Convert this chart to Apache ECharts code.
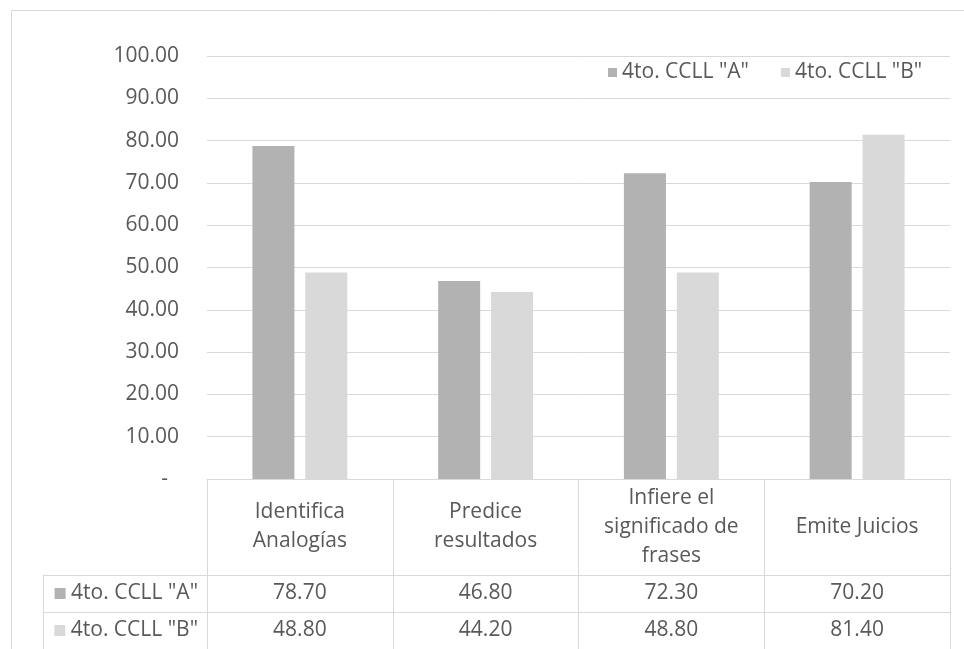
<!DOCTYPE html>
<html>
<head>
<meta charset="utf-8">
<script src="https://cdn.jsdelivr.net/npm/echarts@6/dist/echarts.min.js"></script>
<style>
  html, body { margin: 0; padding: 0; background: #ffffff; }
  #chart { width: 964px; height: 649px; }
</style>
</head>
<body>
<div id="chart"></div>
<script>
// Skill categories (header row of the data table)
const categories = ['Identifica\nAnalogías', 'Predice\nresultados', 'Infiere el\nsignificado de\nfrases', 'Emite Juicios'];
// Group names
const seriesNames = ['4to. CCLL "A"', '4to. CCLL "B"'];
// Percent scores per group
const valuesA = [78.70, 46.80, 72.30, 70.20];
const valuesB = [48.80, 44.20, 48.80, 81.40];
// Value axis range
const yMin = 0, yMax = 100, yStep = 10;

const colors = ['#b2b2b2', '#d9d9d9'];
const textColor = '#595959';
const lineColor = '#d9d9d9';
const fontFamily = '"Open Sans", "Noto Sans", sans-serif';
const fs = 21;

const chart = echarts.init(document.getElementById('chart'), null, { renderer: 'canvas' });

function tableRow(values, rowIdx) {
  return values.map((v, i) => [i, rowIdx, v]);
}

const option = {
  animation: false,
  backgroundColor: '#ffffff',
  textStyle: { fontFamily: fontFamily, color: textColor },
  graphic: [{
    type: 'rect',
    shape: { x: 11.5, y: 10.5, width: 1000, height: 700 },
    style: { fill: 'none', stroke: lineColor, lineWidth: 1 },
    silent: true
  }],
  legend: {
    data: seriesNames,
    left: 603,
    top: 57,
    icon: 'rect',
    itemWidth: 9,
    itemHeight: 9,
    itemGap: 32,
    textStyle: { fontSize: fs, color: textColor, fontFamily: fontFamily }
  },
  grid: [
    // chart plot
    { left: 207, right: 14, top: 56, height: 423 },
    // table frame (vertical rules)
    { left: 207, right: 14, top: 479, height: 172 },
    // table data rows
    { left: 207, right: 14, top: 575, height: 76 }
  ],
  xAxis: [
    {
      gridIndex: 0,
      type: 'category',
      data: categories,
      axisLine: { show: true, lineStyle: { color: lineColor, width: 1 } },
      axisTick: { show: false },
      axisLabel: {
        margin: 48,
        verticalAlign: 'middle',
        fontSize: fs,
        lineHeight: 29,
        color: textColor,
        fontFamily: fontFamily,
        interval: 0
      }
    },
    {
      gridIndex: 1,
      type: 'category',
      data: categories,
      axisLine: { show: false },
      axisTick: { show: false },
      axisLabel: { show: false },
      splitLine: { show: true, interval: 0, lineStyle: { color: lineColor, width: 1 } }
    },
    {
      gridIndex: 2,
      type: 'category',
      data: categories,
      axisLine: { show: false },
      axisTick: { show: false },
      axisLabel: { show: false },
      splitLine: { show: false }
    }
  ],
  yAxis: [
    {
      gridIndex: 0,
      type: 'value',
      min: yMin,
      max: yMax,
      interval: yStep,
      axisLine: { show: false },
      axisTick: { show: false },
      splitLine: { lineStyle: { color: lineColor, width: 1 } },
      axisLabel: {
        margin: 28,
        fontSize: fs,
        color: textColor,
        fontFamily: fontFamily,
        formatter: v => v === 0 ? '{d|-}' : v.toFixed(2),
        rich: { d: { fontSize: fs, color: textColor, padding: [0, 11, 0, 0] } }
      }
    },
    {
      gridIndex: 1,
      type: 'value',
      min: 0,
      max: 1,
      show: false
    },
    {
      gridIndex: 2,
      type: 'category',
      data: seriesNames,
      inverse: true,
      axisLine: { show: false },
      axisTick: { show: true, length: 164, inside: false, interval: 0, lineStyle: { color: lineColor, width: 1 } },
      splitLine: { show: true, interval: 0, lineStyle: { color: lineColor, width: 1 } },
      axisLabel: {
        margin: 9,
        interval: 0,
        fontSize: fs,
        color: textColor,
        fontFamily: fontFamily,
        formatter: (val, idx) => '{k' + idx + '|} ' + val,
        rich: {
          k0: { backgroundColor: colors[0], width: 11, height: 11 },
          k1: { backgroundColor: colors[1], width: 11, height: 11 }
        }
      }
    },
    {
      // left border of the row-label column
      gridIndex: 2,
      type: 'category',
      data: seriesNames,
      position: 'left',
      offset: 164,
      axisLine: { show: true, lineStyle: { color: lineColor, width: 1 } },
      axisTick: { show: false },
      axisLabel: { show: false },
      splitLine: { show: false }
    }
  ],
  series: [
    {
      name: seriesNames[0],
      type: 'bar',
      xAxisIndex: 0,
      yAxisIndex: 0,
      data: valuesA,
      barWidth: 42,
      barGap: '26%',
      itemStyle: { color: colors[0] }
    },
    {
      name: seriesNames[1],
      type: 'bar',
      xAxisIndex: 0,
      yAxisIndex: 0,
      data: valuesB,
      barWidth: 42,
      barGap: '26%',
      itemStyle: { color: colors[1] }
    },
    {
      type: 'scatter',
      xAxisIndex: 2,
      yAxisIndex: 2,
      symbolSize: 0,
      silent: true,
      itemStyle: { opacity: 1 },
      data: tableRow(valuesA, 0).concat(tableRow(valuesB, 1)),
      label: {
        show: true,
        position: 'inside',
        fontSize: fs,
        color: textColor,
        opacity: 1,
        fontFamily: fontFamily,
        formatter: p => p.value[2].toFixed(2)
      }
    }
  ]
};

chart.setOption(option);
</script>
</body>
</html>
